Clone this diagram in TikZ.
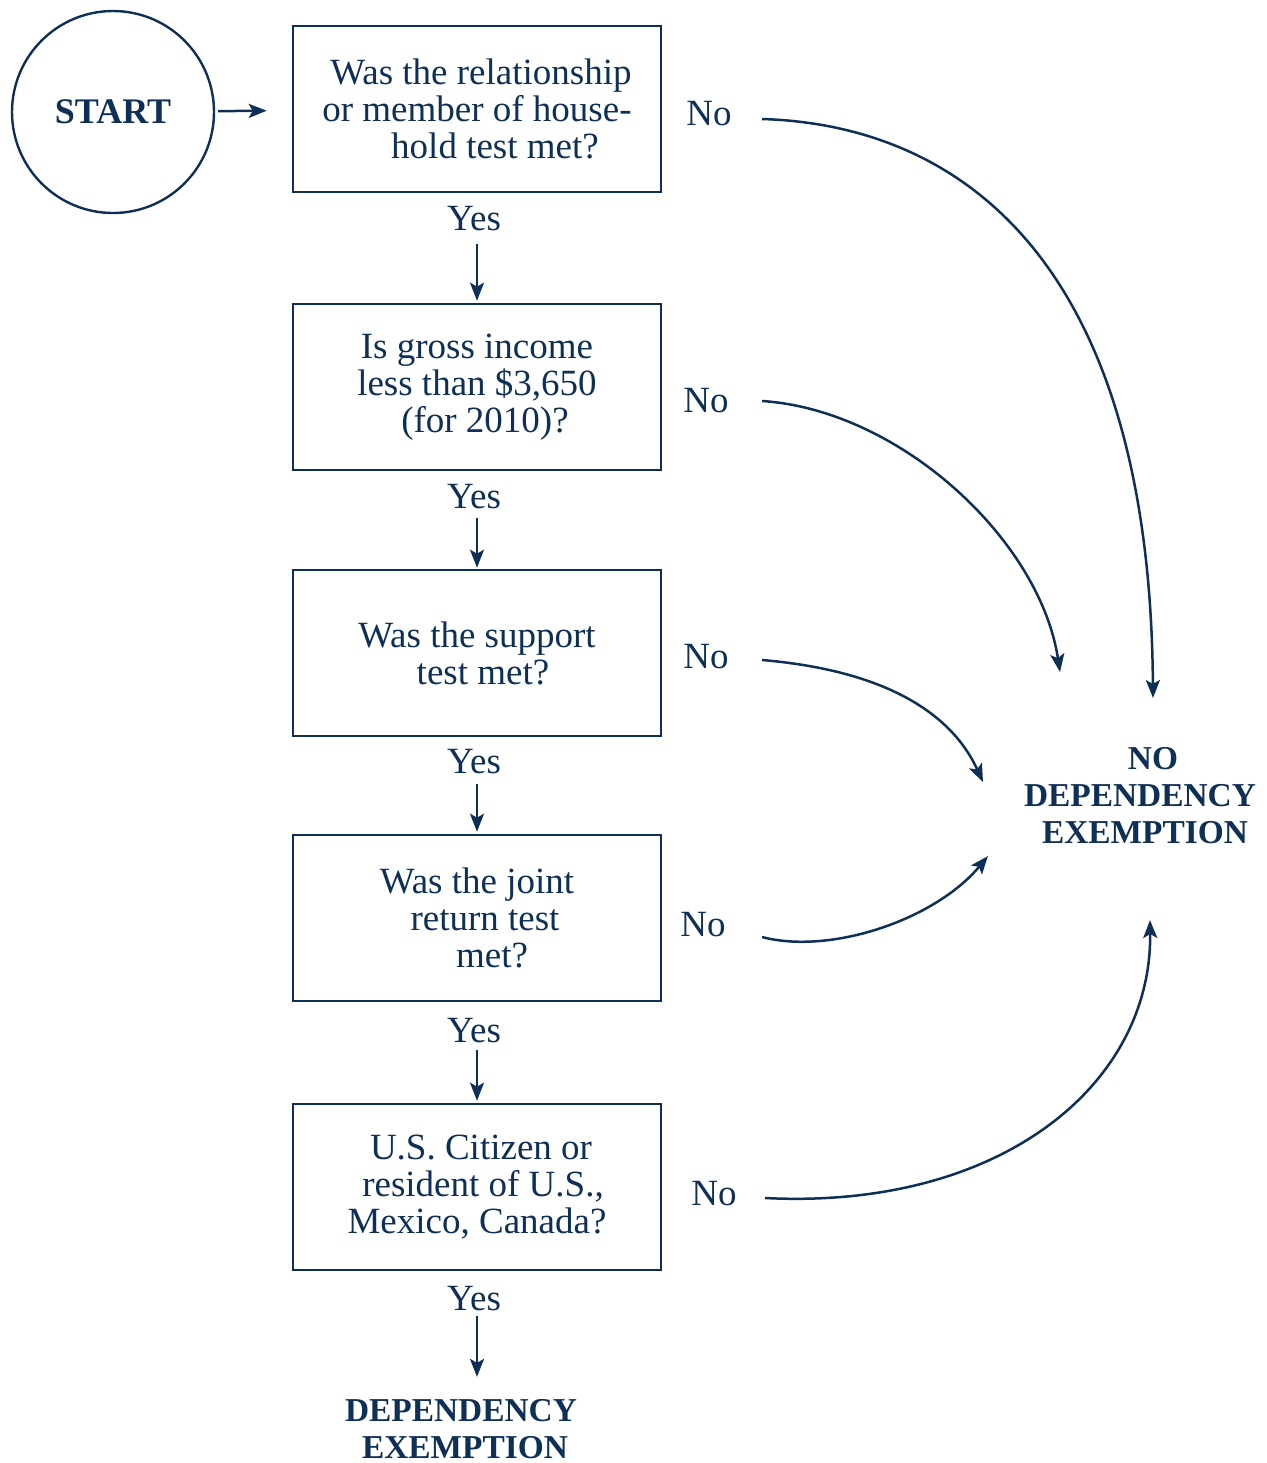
\documentclass[tikz,border=0pt]{standalone}
\usepackage{fontspec}
\setmainfont{Liberation Serif}
\usetikzlibrary{arrows.meta}
\definecolor{navy}{HTML}{0E2F56}
\begin{document}
\begin{tikzpicture}[x=0.5pt,y=-0.5pt,
  every node/.style={text=navy},
  qbox/.style={draw=navy, line width=1.3pt, minimum width=184pt, minimum height=83pt,
    inner sep=0pt, align=center, font=\fontsize{18.5}{18.5}\selectfont},
  lbl/.style={inner sep=0pt, anchor=base, font=\fontsize{18.5}{18.5}\selectfont},
  bold/.style={inner sep=0pt, align=center, font=\bfseries\fontsize{16.7}{18.5}\selectfont},
  arr/.style={draw=navy, line width=1.25pt, -{Stealth[length=9pt,width=7pt,inset=2pt]}},
]
\useasboundingbox (0,0) rectangle (1267,1463);

% start
\node[circle, draw=navy, line width=1.2pt, minimum size=101pt, inner sep=0pt,
  font=\bfseries\fontsize{18}{20}\selectfont] (start) at (113,112) {START};

% question boxes
\node[qbox] (q1) at (477,109) {\hspace*{4pt}Was the relationship\\or member of house-\\\hspace*{18pt}hold test met?};
\node[qbox] (q2) at (477,387) {Is gross income\\less than \$3,650\\\hspace*{8pt}(for 2010)?};
\node[qbox] (q3) at (477,653) {Was the support\\\hspace*{6pt}test met?};
\node[qbox] (q4) at (477,918) {Was the joint\\\hspace*{8pt}return test\\\hspace*{15pt}met?};
\node[qbox] (q5) at (477,1187) {\hspace*{4pt}U.S. Citizen or\\\hspace*{6pt}resident of U.S.,\\Mexico, Canada?};

% yes labels
\node[lbl] (y1) at (474,230) {Yes};
\node[lbl] (y2) at (474,508) {Yes};
\node[lbl] (y3) at (474,773) {Yes};
\node[lbl] (y4) at (474,1042) {Yes};
\node[lbl] (y5) at (474,1310) {Yes};

% no labels
\node[lbl] (no1) at (709,125) {No};
\node[lbl] (no2) at (706,412) {No};
\node[lbl] (no3) at (706,668) {No};
\node[lbl] (no4) at (703,936) {No};
\node[lbl] (no5) at (714,1205) {No};

% outcomes
\node[bold] (dep) at (461,1429) {DEPENDENCY\\\hspace*{4pt}EXEMPTION};
\node[bold] (nodep) at (1140,796) {\hspace*{13pt}NO\\DEPENDENCY\\\hspace*{5pt}EXEMPTION};

% straight connectors
\draw[arr, shorten <=1.5pt, shorten >=12.5pt] (start) -- (q1);
\draw[arr, shorten <=25.5pt, shorten >=1pt] (q1) -- (q2);
\draw[arr, shorten <=23.5pt, shorten >=0.5pt] (q2) -- (q3);
\draw[arr, shorten <=23.5pt, shorten >=1pt] (q3) -- (q4);
\draw[arr, shorten <=24pt, shorten >=1pt] (q4) -- (q5);
\draw[arr, shorten <=22.5pt, shorten >=11pt] (q5.south) -- (q5.south |- dep.north);

% curved "No" connectors
\coordinate (s1) at (762,119);  \coordinate (e1) at (1153,698);
\coordinate (s2) at (762,401);  \coordinate (e2) at (1060,672);
\coordinate (s3) at (762,660);  \coordinate (e3) at (983,782);
\coordinate (s4) at (762,937);  \coordinate (e4) at (988,856);
\coordinate (s5) at (765,1198); \coordinate (e5) at (1150,920);

\draw[arr] (s1) .. controls (960,125) and (1150,260) .. (e1);
\draw[arr] (s2) .. controls (900,410) and (1040,540) .. (e2);
\draw[arr] (s3) .. controls (880,670) and (950,710) .. (e3);
\draw[arr] (s4) .. controls (830,955) and (935,920) .. (e4);
\draw[arr] (s5) .. controls (1000,1210) and (1152,1085) .. (e5);
\end{tikzpicture}
\end{document}
